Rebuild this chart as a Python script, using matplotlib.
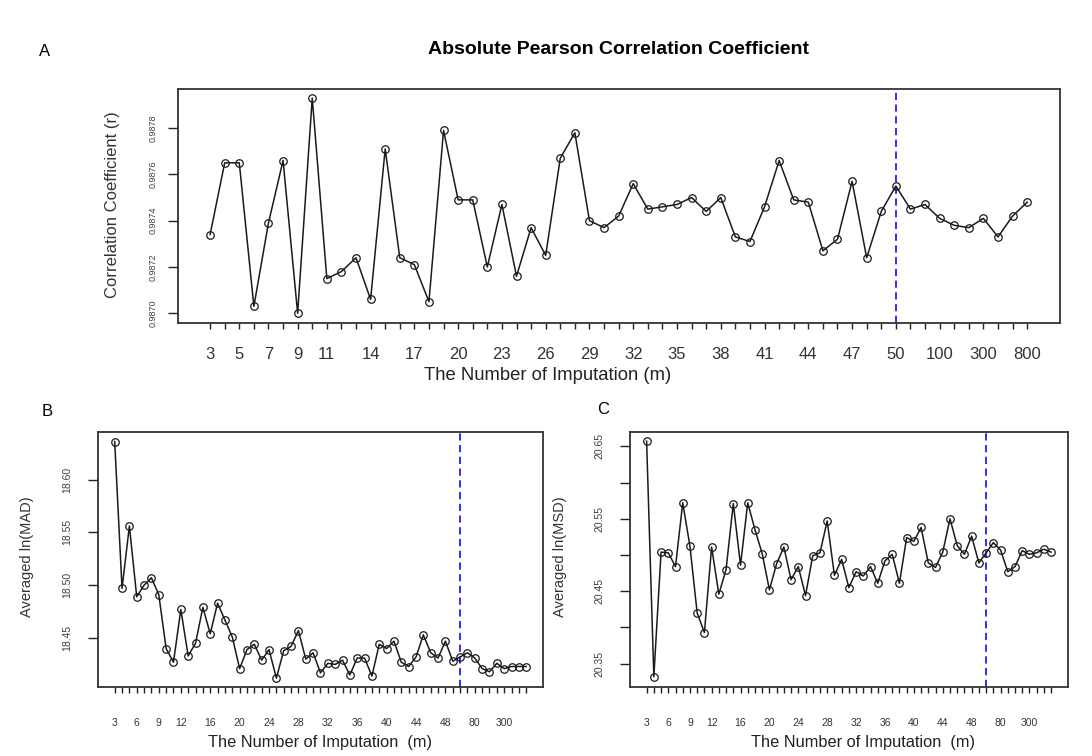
import numpy as np
import matplotlib
matplotlib.use("Agg")
import matplotlib.pyplot as plt

plt.rcParams['font.family'] = ['Liberation Sans', 'DejaVu Sans']

# number of imputations on the x axis (categorical)
m_values = list(range(3, 51)) + [60, 80, 100, 150, 200, 300, 400, 500, 800]

# Panel A: absolute Pearson correlation coefficient
corr_r = [0.98734, 0.98765, 0.98765, 0.98703, 0.98739, 0.98766, 0.98700, 0.98793,
          0.98715, 0.98718, 0.98724, 0.98706, 0.98771, 0.98724, 0.98721, 0.98705,
          0.98779, 0.98749, 0.98749, 0.98720, 0.98747, 0.98716, 0.98737, 0.98725,
          0.98767, 0.98778, 0.98740, 0.98737, 0.98742, 0.98756, 0.98745, 0.98746,
          0.98747, 0.98750, 0.98744, 0.98750, 0.98733, 0.98731, 0.98746, 0.98766,
          0.98749, 0.98748, 0.98727, 0.98732, 0.98757, 0.98724, 0.98744, 0.98755,
          0.98745, 0.98747, 0.98741, 0.98738, 0.98737, 0.98741, 0.98733, 0.98742,
          0.98748]

# Panel B: averaged ln(MAD)
ln_mad = [18.636, 18.497, 18.556, 18.489, 18.500, 18.507, 18.491, 18.440,
          18.427, 18.477, 18.433, 18.445, 18.479, 18.454, 18.483, 18.467,
          18.451, 18.421, 18.439, 18.444, 18.429, 18.439, 18.412, 18.438,
          18.442, 18.457, 18.430, 18.436, 18.417, 18.426, 18.425, 18.429,
          18.415, 18.431, 18.431, 18.414, 18.444, 18.440, 18.447, 18.427,
          18.423, 18.432, 18.453, 18.436, 18.431, 18.447, 18.428, 18.432,
          18.436, 18.431, 18.421, 18.418, 18.426, 18.421, 18.423, 18.423,
          18.423]

# Panel C: averaged ln(MSD)
ln_msd = [20.657, 20.332, 20.504, 20.503, 20.484, 20.572, 20.512, 20.420,
          20.393, 20.511, 20.446, 20.480, 20.571, 20.486, 20.572, 20.535,
          20.502, 20.452, 20.488, 20.511, 20.466, 20.484, 20.444, 20.499,
          20.503, 20.547, 20.472, 20.494, 20.455, 20.477, 20.471, 20.484,
          20.461, 20.492, 20.501, 20.461, 20.524, 20.519, 20.538, 20.489,
          20.483, 20.504, 20.550, 20.513, 20.501, 20.526, 20.489, 20.503,
          20.517, 20.507, 20.477, 20.484, 20.506, 20.501, 20.503, 20.508,
          20.504]

# x labels that are actually printed
a_shown = [3, 5, 7, 9, 11, 14, 17, 20, 23, 26, 29, 32, 35, 38, 41, 44, 47, 50, 100, 300, 800]
bc_shown = [3, 6, 9, 12, 16, 20, 24, 28, 32, 36, 40, 44, 48, 80, 300]
chosen_m = 50

a_yticks = [0.9870, 0.9872, 0.9874, 0.9876, 0.9878]
b_yticks = [18.45, 18.50, 18.55, 18.60]
c_yticks = [20.35, 20.40, 20.45, 20.50, 20.55, 20.60, 20.65]
c_ylabeled = [20.35, 20.45, 20.55, 20.65]

W, H = 1092, 756
fig = plt.figure(figsize=(W / 100, H / 100), dpi=100)


def px_axes(left, top, right, bottom):
    return fig.add_axes([left / W, 1 - bottom / H, (right - left) / W, (bottom - top) / H])


def ftext(x, y, s, **kw):
    fig.text(x / W, 1 - y / H, s, **kw)


line_col = '#1a1a1a'
tick_col = '#333333'


def draw_panel(ax, vals, shown, xlim, ylim, xt_size, xt_pad, tick_len):
    idx = np.arange(len(m_values))
    ax.plot(idx, vals, color=line_col, lw=1.1, marker='o', ms=5.4,
            mfc='none', mec=line_col, mew=0.9, zorder=3)
    ax.axvline(m_values.index(chosen_m), color='#1f1fff', lw=1.3,
               ls=(0, (4, 2.5)), zorder=2)
    ax.set_xlim(*xlim)
    ax.set_ylim(*ylim)
    ax.set_xticks(idx)
    ax.set_xticklabels([str(m) if m in shown else '' for m in m_values],
                       fontsize=xt_size, color=tick_col)
    ax.tick_params(axis='x', length=tick_len, width=1, pad=xt_pad, color='#222222')
    for sp in ax.spines.values():
        sp.set_color('#333333')
        sp.set_linewidth(1.3)


# ---- Panel A ----
axA = px_axes(178, 89, 1060, 323)
draw_panel(axA, corr_r, a_shown, (-2.2, 58.25), (0.986958, 0.987969), 12, 13, 4)
axA.set_yticks(a_yticks)
axA.set_yticklabels(['%.4f' % v for v in a_yticks], fontsize=6.5, color='#4a3a3a',
                    rotation=90, va='center')
axA.tick_params(axis='y', length=7, width=1, pad=8, color='#222222')
ftext(45, 52, 'A', fontsize=12, ha='center', va='center')
ftext(618, 49, 'Absolute Pearson Correlation Coefficient', fontsize=14,
      fontweight='bold', ha='center', va='center')
ftext(548, 376, 'The Number of Imputation (m)', fontsize=13.3, ha='center', va='center',
      color='#222222')
ftext(112, 205, 'Correlation Coefficient (r)', fontsize=12, rotation=90,
      ha='center', va='center', color='#333333')

# ---- Panel B ----
axB = px_axes(98, 432, 543, 687)
draw_panel(axB, ln_mad, bc_shown, (-2.27, 58.28), (18.4036, 18.645), 7.5, 18, 4)
axB.set_yticks(b_yticks)
axB.set_yticklabels(['%.2f' % v for v in b_yticks], fontsize=7.5, color='#4a3a3a',
                    rotation=90, va='center')
axB.tick_params(axis='y', length=7.5, width=1, pad=11, color='#222222')
ftext(47, 412, 'B', fontsize=12, ha='center', va='center')
ftext(320, 742, 'The Number of Imputation  (m)', fontsize=11.8, ha='center', va='center',
      color='#222222')
ftext(27, 557, 'Averaged ln(MAD)', fontsize=10.5, rotation=90,
      ha='center', va='center', color='#333333')

# ---- Panel C ----
axC = px_axes(630, 432, 1068, 687)
draw_panel(axC, ln_msd, bc_shown, (-2.3, 58.34), (20.3179, 20.6697), 7.5, 18, 4)
axC.set_yticks(c_yticks)
axC.set_yticklabels(['%.2f' % v if v in c_ylabeled else '' for v in c_yticks],
                    fontsize=7.5, color='#4a3a3a', rotation=90, va='center')
axC.tick_params(axis='y', length=7.5, width=1, pad=11, color='#222222')
ftext(603, 410, 'C', fontsize=12, ha='center', va='center')
ftext(863, 742, 'The Number of Imputation  (m)', fontsize=11.8, ha='center', va='center',
      color='#222222')
ftext(560, 557, 'Averaged ln(MSD)', fontsize=10.5, rotation=90,
      ha='center', va='center', color='#333333')

fig.savefig('out.png', dpi=100)
